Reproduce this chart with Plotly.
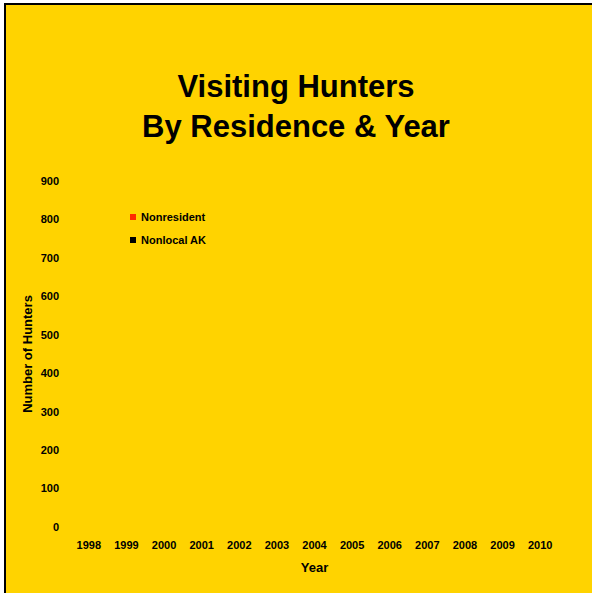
import plotly.graph_objects as go

years = ["1998", "1999", "2000", "2001", "2002", "2003", "2004",
         "2005", "2006", "2007", "2008", "2009", "2010"]
# No bars are visible in the reference: values are missing
nonresident = [None] * len(years)
nonlocal_ak = [None] * len(years)
y_ticks = [0, 100, 200, 300, 400, 500, 600, 700, 800, 900]
series_names = ["Nonresident", "Nonlocal AK"]
series_colors = ["#FF2A00", "#000000"]

W, H = 592, 593
L, R, T, B = 70, 33, 181, 66
pw, ph = W - L - R, H - T - B

def px_x(x):
    return (x - L) / pw

def px_y(y):
    return (H - B - y) / ph

fig = go.Figure()
for name, vals, col in zip(series_names, [nonresident, nonlocal_ak], series_colors):
    fig.add_trace(go.Bar(x=years, y=vals, name=name, marker_color=col,
                         showlegend=False))

shapes = [dict(type="rect", xref="paper", yref="paper", layer="below",
               x0=px_x(5), x1=px_x(W + 10), y0=px_y(H + 10), y1=px_y(4),
               fillcolor="#FFD300", line=dict(color="black", width=2))]
annotations = []
legend_y = [217, 240]
for name, col, ly in zip(series_names, series_colors, legend_y):
    shapes.append(dict(type="rect", xref="paper", yref="paper",
                       x0=px_x(130), x1=px_x(136), y0=px_y(ly + 3), y1=px_y(ly - 3),
                       fillcolor=col, line=dict(width=0)))
    annotations.append(dict(text="<b>%s</b>" % name, xref="paper", yref="paper",
                            x=px_x(139), y=px_y(ly), xanchor="left", yanchor="middle",
                            showarrow=False, font=dict(size=11, color="black")))

fig.update_layout(
    width=W, height=H,
    margin=dict(l=L, r=R, t=T, b=B, autoexpand=False),
    paper_bgcolor="white",
    plot_bgcolor="rgba(0,0,0,0)",
    font=dict(family="Arial, Liberation Sans, sans-serif", color="black"),
    title=dict(text="<b>Visiting Hunters<br>By Residence & Year</b>",
               x=0.5, xanchor="center", y=1 - 97 / H, yanchor="middle",
               font=dict(size=31, color="black")),
    xaxis=dict(type="category", categoryorder="array", categoryarray=years,
               showgrid=False, showline=False, zeroline=False, ticks="",
               ticklabelstandoff=10,
               tickfont=dict(size=11, weight="bold"),
               title=dict(text="<b>Year</b>", font=dict(size=13), standoff=12)),
    yaxis=dict(range=[0, 900], tickvals=y_ticks, showgrid=False, showline=False,
               zeroline=False, ticks="", ticklabelstandoff=10,
               tickfont=dict(size=11, weight="bold"),
               title=dict(text="<b>Number of Hunters</b>", font=dict(size=13), standoff=5)),
    shapes=shapes,
    annotations=annotations,
)

fig.write_html("out.html", config={"displayModeBar": False},
               post_script="document.body.style.margin='0px';")
